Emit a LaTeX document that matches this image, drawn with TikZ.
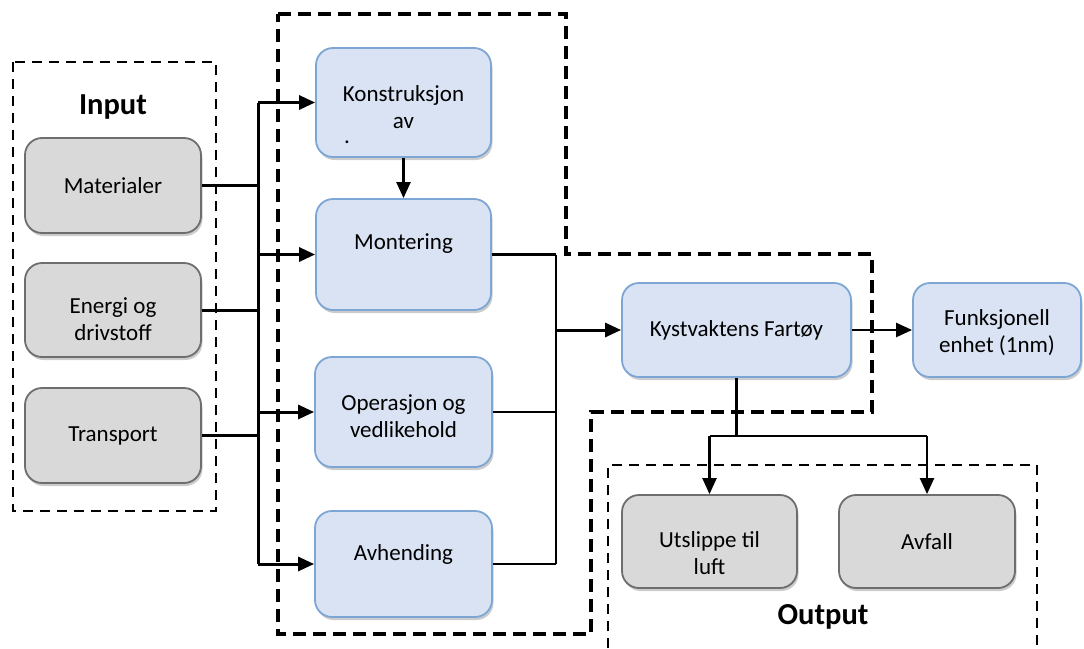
\documentclass[tikz,border=0pt]{standalone}
\usepackage{fontspec}
\setmainfont{Carlito}
\usetikzlibrary{shapes,arrows.meta,shadows}
\definecolor{boxblue}{HTML}{DAE3F3}
\definecolor{blueline}{HTML}{7EA6D4}
\definecolor{boxgrey}{HTML}{D9D9D9}
\definecolor{greyline}{HTML}{6E6E6E}

\tikzset{
  basebox/.style={rectangle, rounded corners=17pt, line width=1.8pt, align=center,
    font=\fontsize{23}{27}\selectfont,
    drop shadow={shadow xshift=1.5pt, shadow yshift=-3pt, opacity=0.4}},
  bluebox/.style={basebox, draw=blueline, fill=boxblue},
  greybox/.style={basebox, draw=greyline, fill=boxgrey},
  conn/.style={line width=3pt},
  thinconn/.style={line width=2.3pt},
  arr/.style={-{Triangle[length=16pt,width=14pt]}},
  bigdash/.style={line width=3.2pt, dash pattern=on 13pt off 7pt},
  smalldash/.style={line width=2pt, dash pattern=on 10pt off 7pt},
  heading/.style={font=\fontsize{30.5}{36}\selectfont\bfseries}
}

\begin{document}
\begin{tikzpicture}[x=1pt,y=-1pt]
  \useasboundingbox (0,0) rectangle (1084,648);

  % frames
  \draw[smalldash] (13,62) rectangle (216,511);
  \draw[bigdash] (278,14) -- (566,14) -- (566,254) -- (872,254) -- (872,412)
    -- (591,412) -- (591,634) -- (278,634) -- cycle;
  \draw[smalldash] (608,648) |- (1037,465) -- (1037,648);

  \node[heading] (input) at (113,107) {Input};
  \node[heading] (output) at (823,617) {Output};

  % input side
  \node[greybox, minimum width=176pt, minimum height=95pt] (mat) at (113,185.5) {Materialer};
  \node[greybox, minimum width=176pt, minimum height=94pt] (ene) at (113,310) {\rule{0pt}{35pt}Energi og\\drivstoff};
  \node[greybox, minimum width=176pt, minimum height=95pt] (tra) at (113,435.5) {Transport};

  % life cycle
  \node[bluebox, minimum width=175pt, minimum height=109pt] (kon) at (403.5,102.5) {\rule{0pt}{26pt}Konstruksjon\\av};
  \node[font=\fontsize{23}{27}\selectfont, inner sep=0pt] (kondot) at (347,142) {.};
  \node[bluebox, minimum width=175pt, minimum height=111pt, text depth=26pt] (mon) at (403.5,254.5) {Montering};
  \node[bluebox, minimum width=177pt, minimum height=110pt] (ope) at (403.5,412) {\rule{0pt}{24pt}Operasjon og\\vedlikehold};
  \node[bluebox, minimum width=177pt, minimum height=106pt, text depth=23pt] (avh) at (403.5,564) {Avhending};

  \node[bluebox, minimum width=229pt, minimum height=94pt] (kys) at (736.5,330) {Kystvaktens Fartøy};
  \node[bluebox, minimum width=168pt, minimum height=94pt] (fun) at (997,330) {\rule{0pt}{22pt}Funksjonell\\enhet (1nm)};

  % output side
  \node[greybox, minimum width=175pt, minimum height=93pt] (uts) at (709.5,541.5) {\rule{0pt}{39pt}Utslippe til\\luft};
  \node[greybox, minimum width=176pt, minimum height=93pt] (avf) at (927,541.5) {Avfall};

  % connectors
  \coordinate (bl) at (258,0);
  \coordinate (br) at (556,0);
  \coordinate (sp) at (0,436);

  \draw[conn] (mat.east) -- (mat.east -| bl);
  \draw[conn] (ene.east) -- (ene.east -| bl);
  \draw[conn] (tra.east) -- (tra.east -| bl);
  \draw[conn] (kon.west -| bl) -- (avh.west -| bl);
  \draw[conn,arr] (kon.west -| bl) -- (kon.west);
  \draw[conn,arr] (mon.west -| bl) -- (mon.west);
  \draw[conn,arr] (ope.west -| bl) -- (ope.west);
  \draw[conn,arr] (avh.west -| bl) -- (avh.west);
  \draw[thinconn,arr] (kon.south) -- (mon.north);

  \draw[thinconn] (mon.east) -- (mon.east -| br);
  \draw[thinconn] (ope.east) -- (ope.east -| br);
  \draw[thinconn] (avh.east) -- (avh.east -| br);
  \draw[thinconn] (mon.east -| br) -- (avh.east -| br);
  \draw[conn,arr] (kys.west -| br) -- (kys.west);

  \draw[thinconn,arr] (kys.east) -- (fun.west);
  \draw[thinconn] (kys.south) -- (kys.south |- sp);
  \draw[thinconn] (uts.north |- sp) -- (avf.north |- sp);
  \draw[thinconn,arr] (uts.north |- sp) -- (uts.north);
  \draw[thinconn,arr] (avf.north |- sp) -- (avf.north);
\end{tikzpicture}
\end{document}
